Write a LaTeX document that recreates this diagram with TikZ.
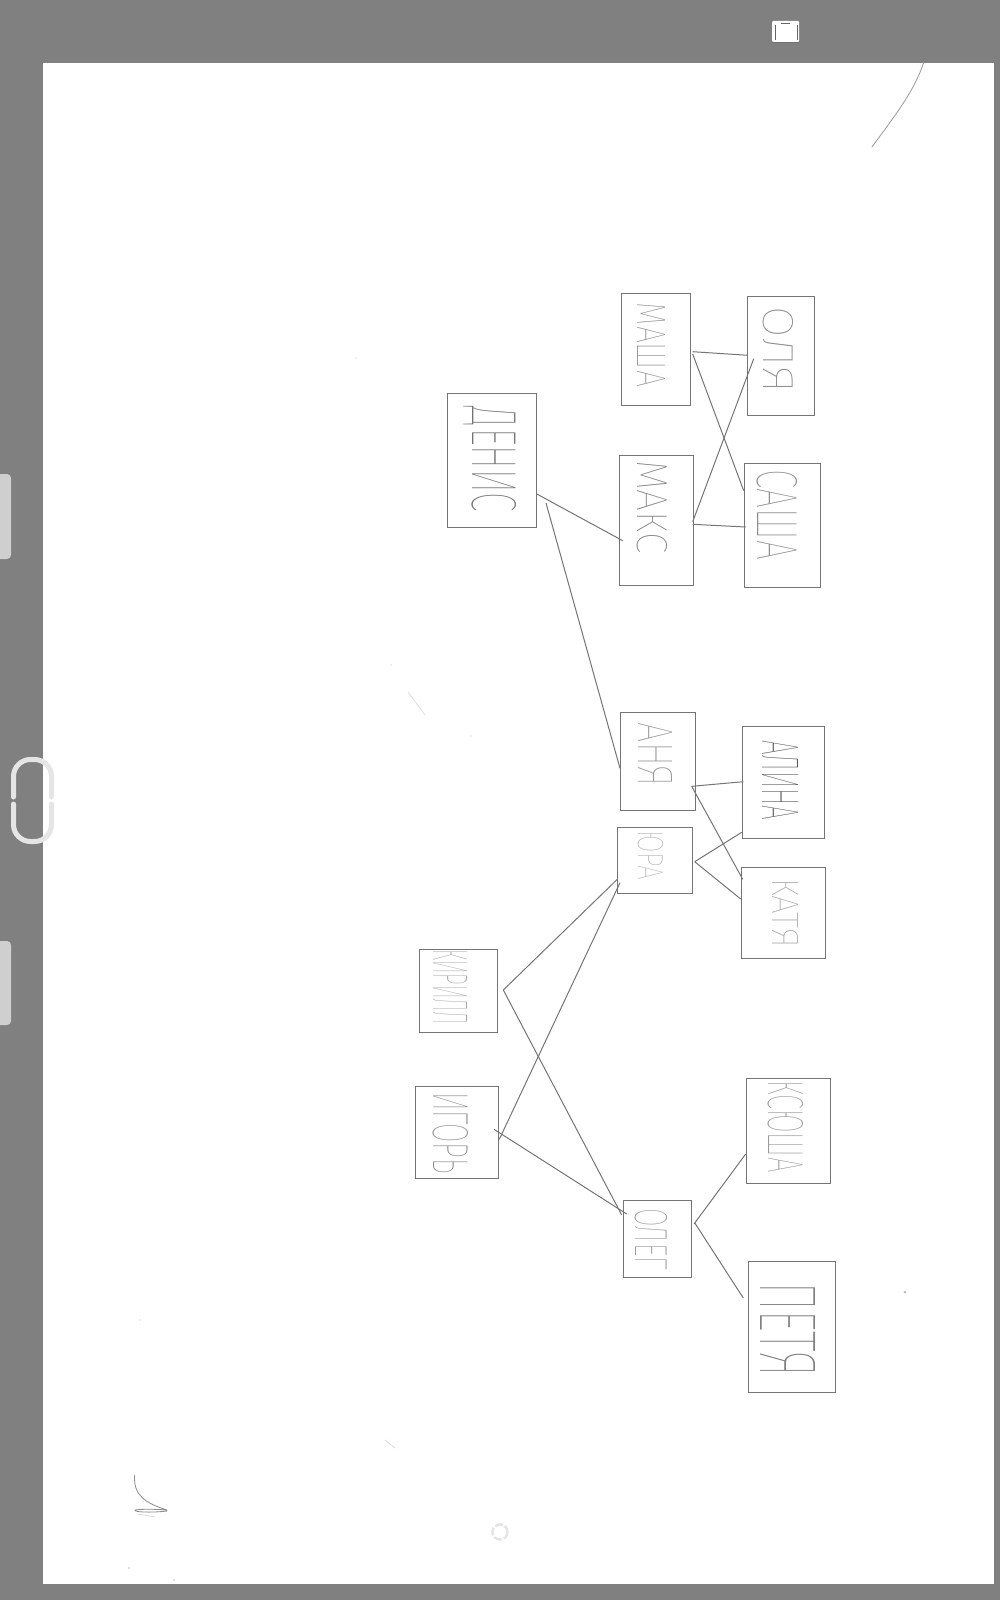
\documentclass[tikz,border=0pt]{standalone}
\usepackage{fontspec}
\usepackage{graphicx}
\newfontfamily\handfont[UprightFont={* Thin},BoldFont={* Light}]{Fira Sans}
\definecolor{pagegray}{gray}{0.5}
\definecolor{inkline}{gray}{0.46}
\definecolor{chrome}{gray}{0.9}
\tikzset{
  personbox/.style={draw=inkline,line width=.9pt,inner sep=0pt,fill=white},
  handtext/.style={inner sep=0pt,rotate=-90,font=\handfont},
  tie/.style={draw=inkline,line width=1pt},
  pencil/.style={draw=black!45,line width=.8pt,line cap=round,line join=round},
  speck/.style={fill=black!25,draw=none}
}
% name, centre, w, h, text centre, cap height, length, ink %, text
\newcommand{\person}[9]{%
  \node[personbox,minimum width=#3pt,minimum height=#4pt] (#1) at (#2) {};
  \node[handtext,text=black!#8] (#1t) at (#5) {\resizebox{#7pt}{#6pt}{#9}};}
\newcommand{\tieline}[4]{\draw[tie] ([shift={(#2)}]#1.center) -- ([shift={(#4)}]#3.center);}
\begin{document}
\begin{tikzpicture}[x=1pt,y=-1pt]
\useasboundingbox (0,0) rectangle (1000,1600);
\fill[pagegray] (0,0) rectangle (1000,1600);
\fill[white] (43,63) rectangle (994,1584);
% scanner chrome
\fill[chrome!90!black,rounded corners=4pt] (-5,474) rectangle (11,559);
\fill[chrome!90!black,rounded corners=4pt] (-5,941) rectangle (11,1025);
\draw[chrome,line width=5pt,line cap=round,rounded corners=17pt] (13.5,797) -- (13.5,759.5) -- (51.5,759.5) -- (51.5,797);
\draw[chrome,line width=5pt,line cap=round,rounded corners=17pt] (13.5,804) -- (13.5,841.5) -- (51.5,841.5) -- (51.5,804);
\fill[white,rounded corners=1pt] (772,21) rectangle (799,42);
\fill[black!55] (772,42) rectangle (799,43.5);
\draw[black!60,line width=.8pt] (781,23) -- (790,23) (775,25) -- (775,40) (797,25) -- (797,40);
\draw[chrome,line width=2.5pt,dash pattern=on 8pt off 2pt] (500,1532) circle[radius=7.5];
% stray pencil marks
\draw[pencil,black!40] (923.5,63) .. controls (914,92) and (893,118) .. (872,147);
\draw[pencil] (134.7,1475) .. controls (133,1495) and (145,1503) .. (167,1510) .. controls (155,1509) and (140,1509) .. (135,1510) .. controls (133,1512) and (150,1513) .. (167,1511);
\draw[pencil,black!15] (138,1514) -- (155,1517);
\draw[pencil,black!12] (408,692) -- (425,715);
\draw[pencil,black!12] (385,1440) -- (395,1448);
\fill[speck] (905,1292) circle[radius=1.5];
\fill[speck] (129,1568) circle[radius=.8];
\fill[speck] (174,1580) circle[radius=.8];
\fill[speck] (140,1320) circle[radius=.7];
\fill[speck] (391,665) circle[radius=.7];
\fill[speck] (471,736) circle[radius=.7];
\fill[speck] (356,358) circle[radius=.6];
% people
\person{masha}{655.5,349}{69}{112}{651,345}{28}{84}{45}{МАША}
\person{olya}{780.5,355.5}{67}{119}{778,350}{30}{86}{45}{ОЛЯ}
\person{denis}{491.5,460}{89}{134}{490,459.5}{44}{105}{55}{ДЕНИС}
\person{maks}{656,520}{74}{130}{652,506.5}{30}{93}{50}{МАКС}
\person{sasha}{782,525}{76}{124}{777,515}{40}{90}{45}{САША}
\person{anya}{657.5,761}{75}{98}{655,754.5}{34}{65}{40}{АНЯ}
\person{yura}{654.5,860}{75}{66}{650.5,855}{25}{50}{30}{ЮРА}
\person{alina}{783,782}{82}{112}{780,780}{36}{80}{65}{АЛИНА}
\person{katya}{783,912.5}{84}{91}{785,913}{26}{70}{35}{КАТЯ}
\person{kirill}{458,990.5}{78}{83}{450,987}{34}{76}{35}{КИРИЛЛ}
\person{igor}{456.5,1132}{83}{92}{450.5,1133}{35}{82}{45}{ИГОРЬ}
\person{oleg}{657,1238.5}{68}{77}{651,1239}{32}{62}{40}{ОЛЕГ}
\person{ksyu}{788,1130.5}{84}{105}{785.5,1126.5}{35}{93}{40}{КСЮША}
\person{petya}{791.5,1326.5}{87}{131}{787.5,1329.5}{55}{95}{50}{ПЕТЯ}
% ties
\tieline{masha}{37.2,2.7}{olya}{-32.8,-0.2}
\tieline{masha}{37.2,5}{sasha}{-38.3,-34.3}
\tieline{maks}{36.7,1.7}{olya}{-26.8,3.2}
\tieline{maks}{36.7,4.3}{sasha}{-36.3,2}
\tieline{denis}{44.8,33.7}{maks}{-33.3,20.7}
\tieline{denis}{54.5,43}{anya}{-37.5,7.3}
\tieline{anya}{34.2,25.3}{alina}{-39.7,-0.3}
\tieline{anya}{34.2,25.3}{katya}{-40.3,-33.2}
\tieline{yura}{40.2,1.7}{alina}{-41.3,50.3}
\tieline{yura}{40.2,1.7}{katya}{-42.3,-13.5}
\tieline{kirill}{45.3,-0.5}{yura}{-37.2,19.3}
\tieline{igor}{42.8,7.3}{yura}{-34.5,22.7}
\tieline{kirill}{45.3,-0.5}{oleg}{-35.3,-23.5}
\tieline{igor}{37.5,-2.7}{oleg}{-30.3,-24.5}
\tieline{oleg}{37,-14.5}{ksyu}{-42.3,23.5}
\tieline{oleg}{38,-15.2}{petya}{-48.2,-28.5}
\end{tikzpicture}
\end{document}
